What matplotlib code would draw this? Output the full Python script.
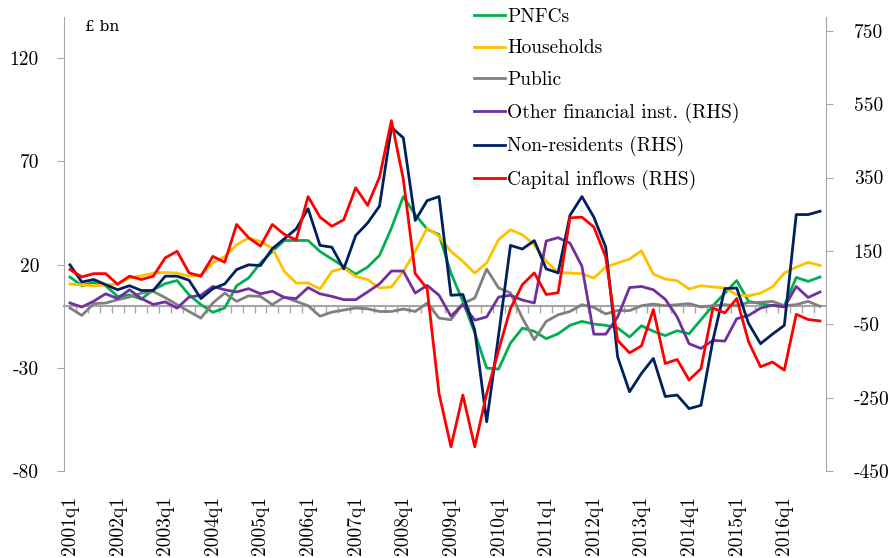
import numpy as np
import matplotlib.pyplot as plt

plt.rcParams['font.family'] = ['cmr10', 'DejaVu Serif']
plt.rcParams['axes.unicode_minus'] = False

# quarterly flows, 2001q1 - 2016q4
year_labels = ['2001q1', '2002q1', '2003q1', '2004q1', '2005q1', '2006q1', '2007q1', '2008q1',
               '2009q1', '2010q1', '2011q1', '2012q1', '2013q1', '2014q1', '2015q1', '2016q1']

# left axis, £ bn
pnfcs = [14.0, 9.8, 11.4, 9.8, 4.6, 5.3, 3.3, 7.8, 10.8, 12.3, 5.4, 0.6, -3.1, -1.0, 9.8, 13.5,
         20.8, 26.4, 31.7, 31.7, 31.7, 26.4, 22.7, 19.1, 15.4, 18.8, 24.5, 37.7, 53.0, 44.2, 37.2, 34.5,
         15.9, 2.2, -13.1, -30.1, -30.6, -18.0, -10.8, -12.3, -15.9, -13.5, -9.4, -7.5, -8.8, -9.4, -10.7, -15.1,
         -9.6, -12.3, -14.4, -12.0, -13.5, -6.7, 0.1, 6.2, 12.3, 2.2, 1.1, 0.1, 0.1, 13.8, 11.9, 14.0]
households = [10.7, 10.1, 9.8, 10.1, 10.7, 13.5, 14.6, 15.9, 16.2, 15.9, 14.3, 15.1, 20.8, 24.0, 29.6, 32.9,
              31.2, 28.0, 16.7, 11.1, 11.1, 8.2, 16.7, 18.4, 14.3, 12.7, 8.7, 9.2, 16.7, 26.4, 37.7, 33.7,
              26.4, 21.6, 15.9, 20.8, 32.1, 36.9, 34.5, 29.6, 21.6, 16.2, 15.9, 15.6, 13.5, 18.8, 20.8, 22.7,
              26.7, 15.4, 13.0, 12.2, 8.2, 9.8, 9.2, 8.7, 5.4, 4.9, 6.2, 9.2, 15.9, 18.8, 21.1, 19.6]
public = [-1.0, -4.6, 1.1, 1.4, 3.0, 4.3, 6.2, 7.0, 4.0, 0.6, -2.7, -5.9, 1.4, 6.2, 2.2, 4.9,
          4.6, 0.6, 4.3, 2.2, 0.1, -5.0, -3.0, -2.0, -1.0, -1.4, -2.7, -2.7, -1.5, -2.7, 1.4, -5.9,
          -6.7, 1.1, 3.8, 17.9, 8.7, 6.3, -5.9, -16.4, -7.5, -4.3, -2.7, 0.6, -0.7, -3.9, -2.2, -2.3,
          0.1, 0.9, 0.1, 0.6, 1.1, -0.5, 0.1, 0.6, 0.1, 1.7, 1.7, 2.2, 0.1, 0.6, 2.2, -0.2]

# right axis
other_fin = [8, -3, 13, 33, 20, 44, 20, 4, 11, -6, 24, 29, 53, 44, 38, 47,
             33, 40, 23, 20, 50, 33, 26, 17, 17, 38, 60, 95, 95, 35, 56, 29,
             -28, 4, -39, -30, 24, 29, 16, 8, 177, 186, 171, 108, -77, -77, -30, 50,
             53, 44, 18, -30, -103, -116, -94, -96, -35, -26, -6, 2, -3, 53, 23, 38]
non_res = [112, 65, 72, 58, 44, 55, 42, 42, 81, 81, 70, 20, 47, 60, 99, 112,
           110, 156, 183, 210, 265, 165, 160, 101, 192, 226, 272, 487, 458, 233, 287, 298,
           29, 31, -66, -316, -80, 165, 155, 178, 101, 90, 247, 298, 242, 160, -139, -234,
           -184, -143, -247, -243, -280, -271, -94, 47, 49, -48, -103, -77, -53, 249, 249, 258]
cap_inflows = [99, 79, 88, 88, 59, 81, 72, 81, 131, 149, 90, 81, 135, 119, 222, 186,
               163, 222, 195, 180, 298, 242, 217, 235, 322, 274, 351, 505, 345, 88, 47, -239,
               -384, -243, -384, -239, -121, -7, 58, 90, 31, 36, 240, 242, 215, 133, -94, -128,
               -109, -10, -157, -146, -202, -171, -6, -19, 20, -98, -166, -153, -175, -23, -37, -41]

x = np.arange(len(pnfcs))
axis_grey = '#A6A6A6'

fig = plt.figure(figsize=(8.88, 5.58), dpi=100)
ax = fig.add_axes([64 / 888, 1 - 471 / 558, (826 - 64) / 888, (471 - 17) / 558])
ax2 = ax.twinx()

lw = 2.0
ax.plot(x, pnfcs, color='#00B050', lw=lw, label='PNFCs', zorder=3)
ax.plot(x, households, color='#FFC000', lw=lw, label='Households', zorder=3)
ax.plot(x, public, color='#808080', lw=lw, label='Public', zorder=3)
ax2.plot(x, other_fin, color='#7030A0', lw=lw, label='Other financial inst. (RHS)')
ax2.plot(x, non_res, color='#002060', lw=lw, label='Non-residents (RHS)')
ax2.plot(x, cap_inflows, color='#FF0000', lw=lw, label='Capital inflows (RHS)')

ax.set_xlim(-0.5, 63.5)
ax.set_ylim(-80, 140)
ax2.set_ylim(-450, 787.5)

# left axis
left_ticks = [-80, -30, 20, 70, 120]
ax.set_yticks(left_ticks)
ax.set_yticklabels([str(t) for t in left_ticks])
ax.tick_params(axis='y', direction='out', length=5, color=axis_grey, labelsize=14, pad=13)

# right axis
right_ticks = [-450, -250, -50, 150, 350, 550, 750]
ax2.set_yticks(right_ticks)
ax2.set_yticklabels([str(t) for t in right_ticks])
ax2.tick_params(axis='y', direction='out', length=5, color=axis_grey, labelsize=14, pad=15)

for s in ['top', 'right']:
    ax.spines[s].set_visible(False)
for s in ['top', 'left', 'bottom']:
    ax2.spines[s].set_visible(False)
ax.spines['left'].set_color(axis_grey)
ax2.spines['right'].set_color(axis_grey)

# zero line with quarter ticks
ax.spines['bottom'].set_position(('data', 0))
ax.spines['bottom'].set_color(axis_grey)
ax.spines['bottom'].set_linewidth(1.5)
ax.set_xticks([])
ax.set_xticks(np.arange(0.5, 63, 1), minor=True)
ax.tick_params(axis='x', which='minor', direction='out', length=5, width=1, color=axis_grey,
               labelbottom=False)

# year labels at the bottom
sec = ax.secondary_xaxis('bottom')
sec.set_xticks(np.arange(0, 64, 4))
sec.set_xticklabels(year_labels)
sec.tick_params(axis='x', length=0, labelsize=14, labelrotation=90, pad=18)
sec.spines['bottom'].set_visible(False)

fig.text(85 / 888, 1 - 27 / 558, '£ bn', fontsize=11, va='center', family='DejaVu Serif')

h1, l1 = ax.get_legend_handles_labels()
h2, l2 = ax2.get_legend_handles_labels()
fig.legend(h1 + h2, l1 + l2, loc='upper left', bbox_to_anchor=(474 / 888, 1 - 8 / 558),
           frameon=False, fontsize=14, handlelength=1.6, handletextpad=0.1,
           labelspacing=0.7, borderaxespad=0, borderpad=0)

fig.savefig('out.png', dpi=100)
